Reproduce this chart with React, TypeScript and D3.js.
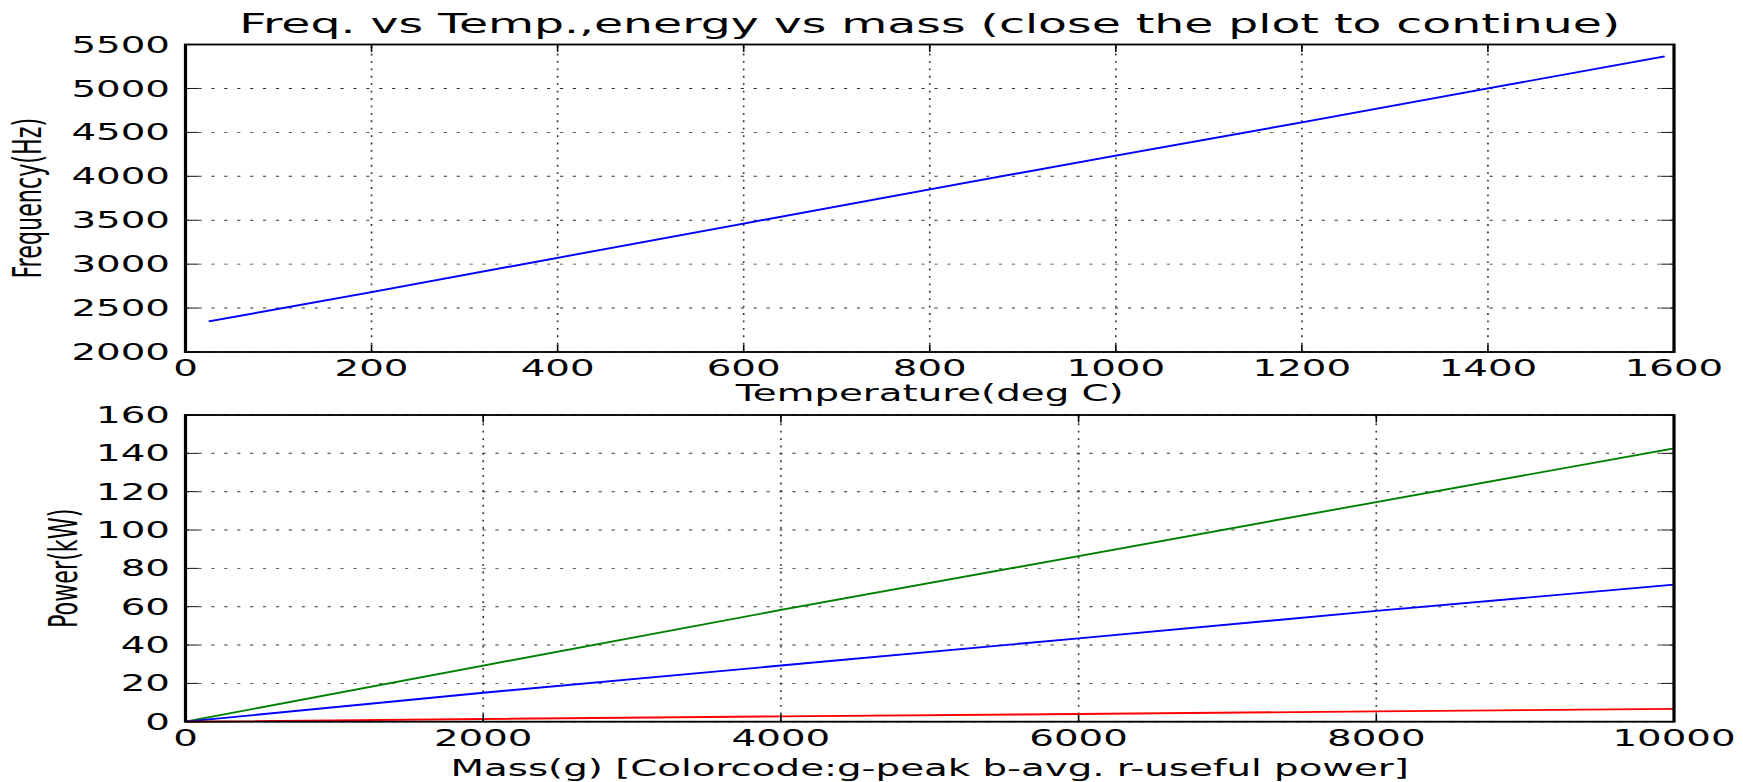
import React from 'react';
import { line, scaleLinear } from 'd3';

// top panel: frequency vs temperature
const tempC = [25, 200, 400, 600, 800, 1000, 1200, 1400, 1590];
const freqHz = [2348, 2682, 3072, 3462, 3851, 4236, 4614, 5000, 5366];
const tempTicks = [0, 200, 400, 600, 800, 1000, 1200, 1400, 1600];
const freqTicks = [2000, 2500, 3000, 3500, 4000, 4500, 5000, 5500];

// bottom panel: power vs mass
const massG = [0, 2000, 4000, 6000, 8000, 10000];
const peakKW = [0, 29.3, 58.3, 86.4, 114.6, 142.6];
const avgKW = [0, 15.1, 29.3, 43.5, 57.8, 71.5];
const usefulKW = [0, 1.4, 2.8, 4.0, 5.4, 6.7];
const massTicks = [0, 2000, 4000, 6000, 8000, 10000];
const powerTicks = [0, 20, 40, 60, 80, 100, 120, 140, 160];

const WIDTH = 1743;
const HEIGHT = 782;
// the original figure was stretched when saved, wider than tall
const SX = 1.55;
const SY = 0.89;

const LEFT = 185.5;
const RIGHT = 1674;
const FONT = '"DejaVu Sans", sans-serif';
const TICK_LEN = 8.3;

type Series = { xs: number[]; ys: number[]; color: string };

type PanelProps = {
    top: number;
    bottom: number;
    xDomain: [number, number];
    yDomain: [number, number];
    xTicks: number[];
    yTicks: number[];
    series: Series[];
    xLabel: string;
    xLabelY: number;
    yLabel: string;
    yLabelX: number;
};

const Panel = (props: PanelProps) => {
    const { top, bottom, xDomain, yDomain, xTicks, yTicks, series, xLabel, xLabelY, yLabel, yLabelX } = props;

    const x = scaleLinear().domain(xDomain).range([LEFT / SX, RIGHT / SX]);
    const y = scaleLinear().domain(yDomain).range([bottom / SY, top / SY]);
    const [x0, x1] = x.range();
    const [y0, y1] = y.range();

    return (
        <g>
            {/* grid */}
            <g stroke="#000" strokeWidth={1.04} strokeDasharray="2.08 6.25" opacity={0.8}>
                {xTicks.map((t) => (
                    <line key={'gx' + t} x1={x(t)} x2={x(t)} y1={y0} y2={y1} />
                ))}
                {yTicks.map((t) => (
                    <line key={'gy' + t} x1={x0} x2={x1} y1={y(t)} y2={y(t)} />
                ))}
            </g>

            {/* data */}
            {series.map((s, i) => {
                const path = line<number>()
                    .x((d, j) => x(s.xs[j]))
                    .y((d) => y(d))(s.ys);
                return <path key={i} d={path || ''} fill="none" stroke={s.color} strokeWidth={2.08} />;
            })}

            {/* ticks, inward on all sides */}
            <g stroke="#000" strokeWidth={1.04}>
                {xTicks.map((t) => (
                    <g key={'tx' + t}>
                        <line x1={x(t)} x2={x(t)} y1={y0} y2={y0 - TICK_LEN} />
                        <line x1={x(t)} x2={x(t)} y1={y1} y2={y1 + TICK_LEN} />
                    </g>
                ))}
                {yTicks.map((t) => (
                    <g key={'ty' + t}>
                        <line x1={x0} x2={x0 + TICK_LEN} y1={y(t)} y2={y(t)} />
                        <line x1={x1} x2={x1 - TICK_LEN} y1={y(t)} y2={y(t)} />
                    </g>
                ))}
            </g>

            {/* frame */}
            <rect x={x0} y={y1} width={x1 - x0} height={y0 - y1} fill="none" stroke="#000" strokeWidth={2.08} />

            {/* tick labels */}
            <g fontFamily={FONT} fontSize={25} fill="#000">
                {xTicks.map((t) => (
                    <text key={'lx' + t} x={x(t)} y={(bottom + 24.5) / SY} textAnchor="middle">
                        {t}
                    </text>
                ))}
                {yTicks.map((t) => (
                    <text key={'ly' + t} x={170 / SX} y={y(t) + 9.1} textAnchor="end">
                        {t}
                    </text>
                ))}
            </g>

            {/* axis labels */}
            <text
                x={(LEFT + RIGHT) / 2 / SX}
                y={xLabelY / SY}
                textAnchor="middle"
                fontFamily={FONT}
                fontSize={25}
            >
                {xLabel}
            </text>
            <text
                transform={`translate(${yLabelX / SX},${(top + bottom) / 2 / SY}) rotate(-90)`}
                textAnchor="middle"
                fontFamily={FONT}
                fontSize={25}
            >
                {yLabel}
            </text>
        </g>
    );
};

const App = () => {
    return (
        <svg
            width={WIDTH}
            height={HEIGHT}
            style={{ position: 'absolute', left: 0, top: 0, display: 'block', background: '#fff' }}
        >
            <rect width={WIDTH} height={HEIGHT} fill="#fff" />
            <g transform={`scale(${SX},${SY})`}>
                <text
                    x={(LEFT + RIGHT) / 2 / SX}
                    y={33 / SY}
                    textAnchor="middle"
                    fontFamily={FONT}
                    fontSize={30.5}
                >
                    Freq. vs Temp.,energy vs mass (close the plot to continue)
                </text>

                <Panel
                    top={44.5}
                    bottom={352}
                    xDomain={[0, 1600]}
                    yDomain={[2000, 5500]}
                    xTicks={tempTicks}
                    yTicks={freqTicks}
                    series={[{ xs: tempC, ys: freqHz, color: '#0000ff' }]}
                    xLabel="Temperature(deg C)"
                    xLabelY={401}
                    yLabel="Frequency(Hz)"
                    yLabelX={41}
                />

                <Panel
                    top={415}
                    bottom={721.7}
                    xDomain={[0, 10000]}
                    yDomain={[0, 160]}
                    xTicks={massTicks}
                    yTicks={powerTicks}
                    series={[
                        { xs: massG, ys: peakKW, color: '#008000' },
                        { xs: massG, ys: avgKW, color: '#0000ff' },
                        { xs: massG, ys: usefulKW, color: '#ff0000' }
                    ]}
                    xLabel="Mass(g) [Colorcode:g-peak b-avg. r-useful power]"
                    xLabelY={776}
                    yLabel="Power(kW)"
                    yLabelX={77}
                />
            </g>
        </svg>
    );
};

export default App;
